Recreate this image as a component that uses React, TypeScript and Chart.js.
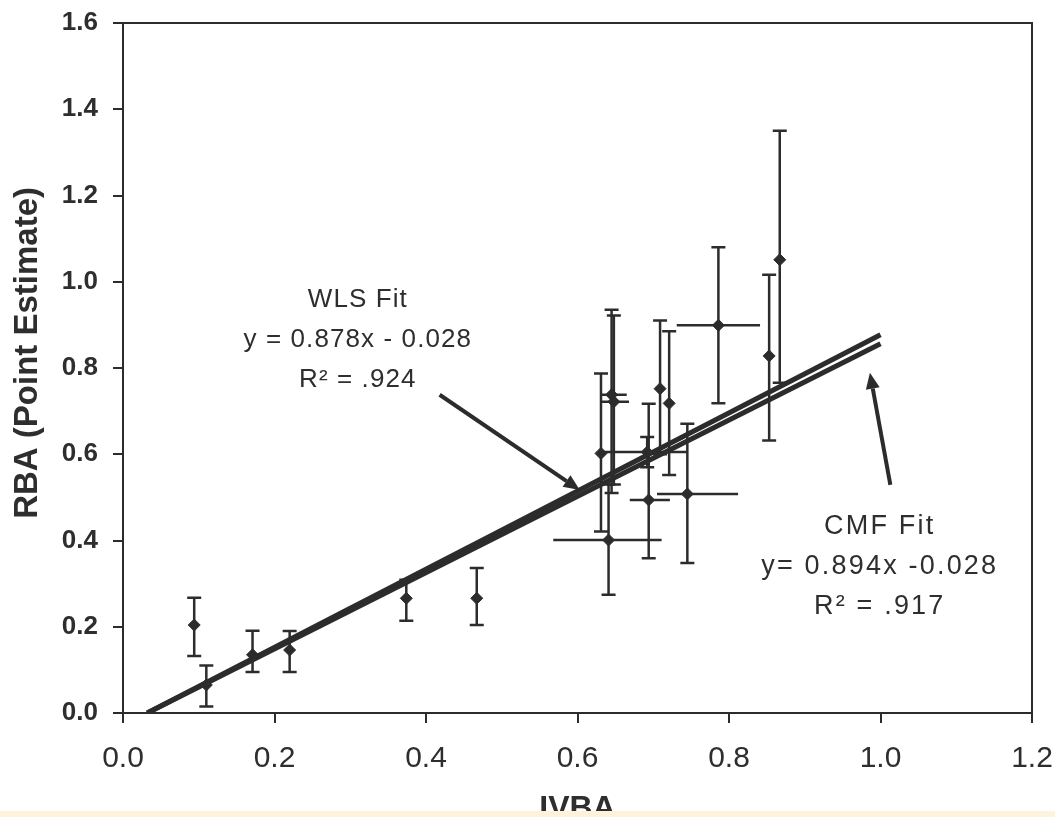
import React, { useEffect, useRef } from "react";
import { Chart, registerables } from "chart.js";

Chart.register(...registerables);

// ---- data ----
const xValues = [0.094, 0.110, 0.171, 0.220, 0.374, 0.467, 0.631, 0.641, 0.645, 0.648, 0.694, 0.692, 0.709, 0.721, 0.745, 0.786, 0.853, 0.867];
const yValues = [0.204, 0.065, 0.135, 0.146, 0.266, 0.266, 0.602, 0.401, 0.738, 0.722, 0.494, 0.605, 0.752, 0.718, 0.508, 0.899, 0.828, 1.051];
const yLow = [0.132, 0.015, 0.095, 0.095, 0.214, 0.204, 0.421, 0.274, 0.510, 0.530, 0.359, 0.570, 0.600, 0.552, 0.348, 0.718, 0.632, 0.766];
const yHigh = [0.267, 0.110, 0.191, 0.190, 0.309, 0.336, 0.787, 0.530, 0.935, 0.922, 0.717, 0.640, 0.910, 0.885, 0.671, 1.080, 1.016, 1.350];
const xLow: (number | null)[] = [null, null, null, null, null, null, null, 0.568, 0.630, 0.630, 0.669, 0.631, null, null, 0.705, 0.731, null, null];
const xHigh: (number | null)[] = [null, null, null, null, null, null, null, 0.711, 0.665, 0.668, 0.722, 0.745, null, null, 0.812, 0.841, null, null];

const wlsLineX = [0.032, 1.0];
const wlsLineY = [0.0, 0.856];
const cmfLineX = [0.032, 1.0];
const cmfLineY = [0.0, 0.877];

const xTickValues = [0, 0.2, 0.4, 0.6, 0.8, 1.0, 1.2];
const yTickValues = [0, 0.2, 0.4, 0.6, 0.8, 1.0, 1.2, 1.4, 1.6];

const xTitle = "IVBA";
const yTitle = "RBA (Point Estimate)";

const wlsText = ["WLS Fit", "y = 0.878x - 0.028", "R\u00B2 = .924"];
const cmfText = ["CMF Fit", "y= 0.894x -0.028", "R\u00B2 = .917"];

// annotation anchors in data units
const wlsTextX = 0.31;
const wlsTextY = [0.958, 0.865, 0.773];
const cmfTextX = 0.999;
const cmfTextY = [0.432, 0.339, 0.246];
const wlsArrow = { x1: 0.418, y1: 0.738, x2: 0.603, y2: 0.517 };
const cmfArrow = { x1: 1.013, y1: 0.529, x2: 0.986, y2: 0.789 };
const yTitleAnchor = 0.835;

const INK = "#2c2c2c";
const TEXT = "#2e2e2e";

const errorBarPlugin = {
  id: "errorBars",
  beforeDatasetsDraw(chart: any) {
    const { ctx, scales } = chart;
    const xs = scales.x;
    const ys = scales.y;
    ctx.save();
    ctx.strokeStyle = INK;
    ctx.lineWidth = 2.5;
    const cap = 7;
    xValues.forEach((xv, i) => {
      const px = xs.getPixelForValue(xv);
      const py = ys.getPixelForValue(yValues[i]);
      const lo = ys.getPixelForValue(yLow[i]);
      const hi = ys.getPixelForValue(yHigh[i]);
      ctx.beginPath();
      ctx.moveTo(px, lo);
      ctx.lineTo(px, hi);
      ctx.moveTo(px - cap, lo);
      ctx.lineTo(px + cap, lo);
      ctx.moveTo(px - cap, hi);
      ctx.lineTo(px + cap, hi);
      const xl = xLow[i];
      const xh = xHigh[i];
      if (xl != null && xh != null) {
        ctx.moveTo(xs.getPixelForValue(xl), py);
        ctx.lineTo(xs.getPixelForValue(xh), py);
      }
      ctx.stroke();
    });
    ctx.restore();
  },
};

function drawArrow(ctx: CanvasRenderingContext2D, x1: number, y1: number, x2: number, y2: number) {
  const ang = Math.atan2(y2 - y1, x2 - x1);
  const headLen = 16;
  const headW = 7;
  const bx = x2 - headLen * Math.cos(ang);
  const by = y2 - headLen * Math.sin(ang);
  ctx.beginPath();
  ctx.moveTo(x1, y1);
  ctx.lineTo(bx, by);
  ctx.stroke();
  ctx.beginPath();
  ctx.moveTo(x2, y2);
  ctx.lineTo(bx + headW * Math.sin(ang), by - headW * Math.cos(ang));
  ctx.lineTo(bx - headW * Math.sin(ang), by + headW * Math.cos(ang));
  ctx.closePath();
  ctx.fill();
}

const annotationPlugin = {
  id: "annotations",
  afterDraw(chart: any) {
    const { ctx, scales, chartArea } = chart;
    const xs = scales.x;
    const ys = scales.y;
    ctx.save();
    // frame
    ctx.strokeStyle = INK;
    ctx.lineWidth = 2;
    ctx.strokeRect(chartArea.left, chartArea.top, chartArea.right - chartArea.left, chartArea.bottom - chartArea.top);

    // fit texts
    ctx.fillStyle = TEXT;
    ctx.textAlign = "center";
    ctx.textBaseline = "middle";
    ctx.font = "26px 'Liberation Sans', Arial, sans-serif";
    try { (ctx as any).letterSpacing = "1.1px"; } catch (e) {}
    wlsText.forEach((t, i) => {
      ctx.fillText(t, xs.getPixelForValue(wlsTextX), ys.getPixelForValue(wlsTextY[i]));
    });
    ctx.font = "27px 'Liberation Sans', Arial, sans-serif";
    try { (ctx as any).letterSpacing = "2.2px"; } catch (e) {}
    cmfText.forEach((t, i) => {
      ctx.fillText(t, xs.getPixelForValue(cmfTextX), ys.getPixelForValue(cmfTextY[i]));
    });
    try { (ctx as any).letterSpacing = "0px"; } catch (e) {}

    // arrows
    ctx.strokeStyle = INK;
    ctx.fillStyle = INK;
    ctx.lineWidth = 4;
    drawArrow(ctx, xs.getPixelForValue(wlsArrow.x1), ys.getPixelForValue(wlsArrow.y1), xs.getPixelForValue(wlsArrow.x2), ys.getPixelForValue(wlsArrow.y2));
    drawArrow(ctx, xs.getPixelForValue(cmfArrow.x1), ys.getPixelForValue(cmfArrow.y1), xs.getPixelForValue(cmfArrow.x2), ys.getPixelForValue(cmfArrow.y2));

    // y axis title
    ctx.fillStyle = TEXT;
    ctx.font = "bold 33px 'Liberation Sans', Arial, sans-serif";
    ctx.translate(28, ys.getPixelForValue(yTitleAnchor));
    ctx.rotate(-Math.PI / 2);
    ctx.textAlign = "center";
    ctx.textBaseline = "middle";
    ctx.fillText(yTitle, 0, 0);
    ctx.restore();
  },
};

export default function App() {
  const ref = useRef<HTMLCanvasElement | null>(null);

  useEffect(() => {
    if (!ref.current) return;
    const points = xValues.map((x, i) => ({ x, y: yValues[i] }));
    const wls = wlsLineX.map((x, i) => ({ x, y: wlsLineY[i] }));
    const cmf = cmfLineX.map((x, i) => ({ x, y: cmfLineY[i] }));

    const chart = new Chart(ref.current, {
      type: "scatter",
      data: {
        datasets: [
          {
            type: "line",
            label: "WLS Fit",
            data: wls,
            borderColor: INK,
            borderWidth: 5,
            pointRadius: 0,
            fill: false,
            showLine: true,
            order: 1,
          },
          {
            type: "line",
            label: "CMF Fit",
            data: cmf,
            borderColor: INK,
            borderWidth: 5,
            pointRadius: 0,
            fill: false,
            showLine: true,
            order: 1,
          },
          {
            label: "RBA",
            data: points,
            pointStyle: "rectRot",
            pointRadius: 6,
            backgroundColor: INK,
            borderColor: INK,
            borderWidth: 1,
            order: 2,
          },
        ],
      } as any,
      options: {
        responsive: false,
        animation: false,
        events: [],
        layout: { padding: { left: 0, top: 23, right: 23, bottom: 0 } },
        plugins: {
          legend: { display: false },
          tooltip: { enabled: false },
        },
        scales: {
          x: {
            type: "linear",
            min: 0,
            max: 1.2,
            afterFit: (s: any) => {
              s.height = 127;
              s.paddingLeft = 0;
              s.paddingRight = 0;
              s.paddingTop = 0;
              s.paddingBottom = 0;
            },
            afterBuildTicks: (s: any) => { s.ticks = xTickValues.map((v) => ({ value: v })); },
            grid: { display: true, drawOnChartArea: false, drawTicks: true, tickLength: 10, color: INK, lineWidth: 2 },
            border: { display: true, color: INK, width: 2 },
            ticks: {
              color: TEXT,
              padding: 18,
              font: { family: "'Liberation Sans Narrow', 'Liberation Sans', Arial, sans-serif", size: 30 },
              callback: (v: any) => Number(v).toFixed(1),
            },
            title: {
              display: true,
              text: xTitle,
              color: TEXT,
              font: { family: "'Liberation Sans', Arial, sans-serif", size: 32, weight: "bold" },
              padding: { top: 0, bottom: 12 },
            },
          },
          y: {
            type: "linear",
            min: 0,
            max: 1.6,
            afterFit: (s: any) => {
              s.width = 123;
              s.paddingLeft = 0;
              s.paddingRight = 0;
              s.paddingTop = 0;
              s.paddingBottom = 0;
            },
            afterBuildTicks: (s: any) => { s.ticks = yTickValues.map((v) => ({ value: v })); },
            grid: { display: true, drawOnChartArea: false, drawTicks: true, tickLength: 10, color: INK, lineWidth: 2 },
            border: { display: true, color: INK, width: 2 },
            ticks: {
              color: TEXT,
              padding: 15,
              font: { family: "'Liberation Sans', Arial, sans-serif", size: 26, weight: "bold" },
              callback: (v: any) => Number(v).toFixed(1),
            },
            title: { display: false },
          },
        },
      } as any,
      plugins: [errorBarPlugin, annotationPlugin],
    });
    return () => chart.destroy();
  }, []);

  return (
    <div style={{ position: "fixed", left: 0, top: 0, width: 1055, height: 817, overflow: "hidden", background: "#ffffff" }}>
      <canvas ref={ref} width={1055} height={840} style={{ display: "block", width: 1055, height: 840 }} />
      <div style={{ position: "absolute", left: 0, top: 811, width: 1055, height: 6, background: "#fdf2dc" }} />
    </div>
  );
}
